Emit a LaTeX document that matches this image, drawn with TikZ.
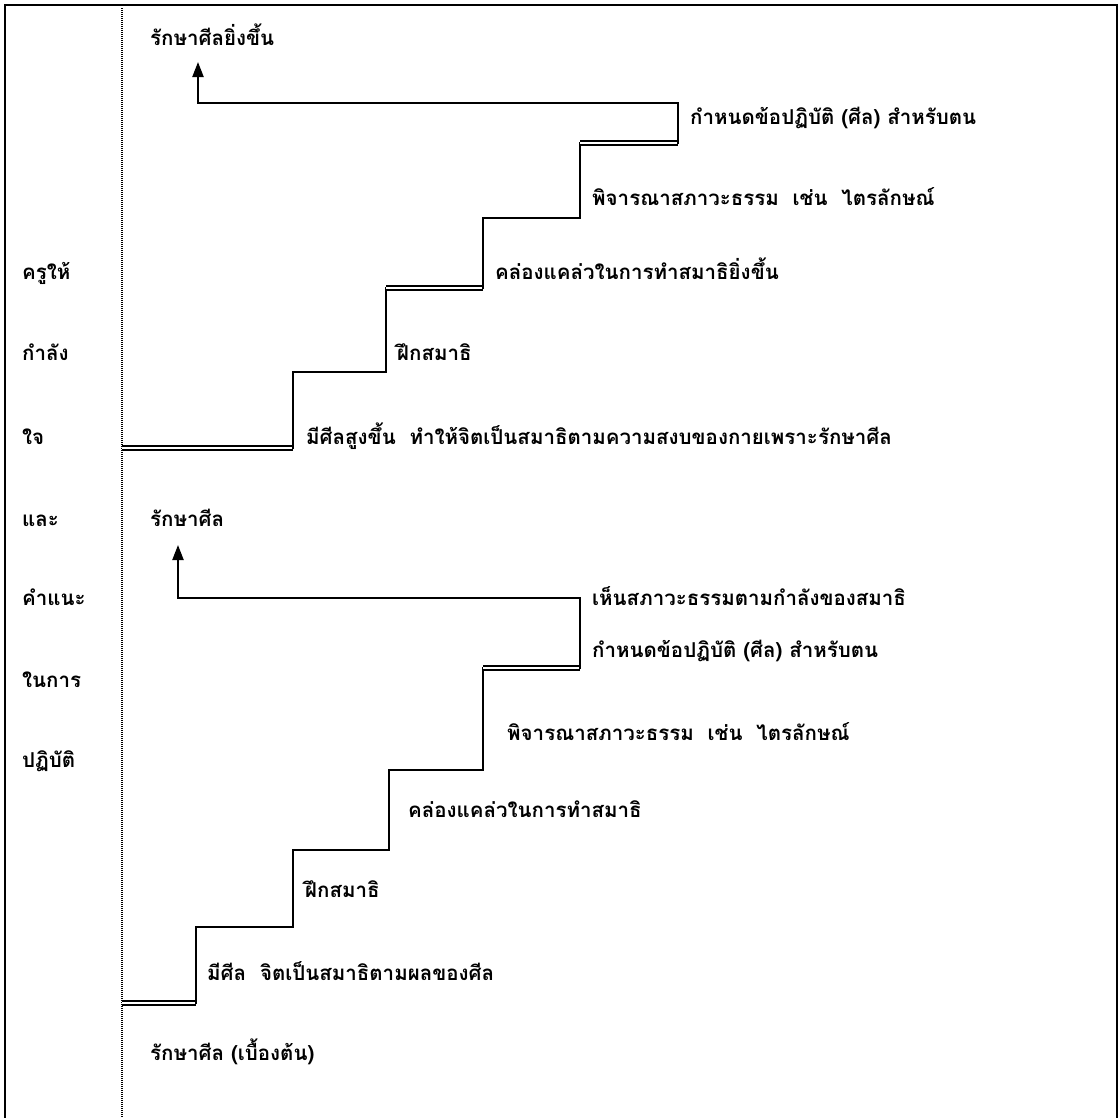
\documentclass[tikz,border=0pt]{standalone}
\usepackage{fontspec}
\newfontfamily\thai[Script=Thai]{Loma}
\usetikzlibrary{arrows.meta}
\begin{document}
\begin{tikzpicture}[x=1pt,y=-1pt,
  lbl/.style={anchor=base west,inner sep=0pt,font=\thai\bfseries\fontsize{20.5}{24}\selectfont},
  stair/.style={line width=2.2pt,line cap=rect},
  dbl/.style={line width=2pt,double,double distance=1.3pt},
  tip/.style={-{Triangle[width=11pt,length=15pt]}},
  frame/.style={line width=2pt},
  sep/.style={line width=1.5pt,dash pattern=on 1.2pt off 0.8pt}]
\useasboundingbox (0,0) rectangle (1119,1117);
\clip (0,0) rectangle (1119,1117);
% frame
\draw[frame] (5,1125) -- (5,5) -- (1117,5) -- (1117,1125);
\draw[sep] (122,8) -- (122,1117);
% left column
\node[lbl] (c1) at (22,279) {ครูให้};
\node[lbl] (c2) at (22,360) {กำลัง};
\node[lbl] (c3) at (22,444) {ใจ};
\node[lbl] (c4) at (22,526) {และ};
\node[lbl] (c5) at (22,605) {คำแนะ};
\node[lbl] (c6) at (22,687) {ในการ};
\node[lbl] (c7) at (22,767) {ปฏิบัติ};
% upper staircase
\coordinate (u0) at (122,448);
\coordinate (u1) at (293,448);
\coordinate (u2) at (293,372);
\coordinate (u3) at (386,372);
\coordinate (u4) at (386,288);
\coordinate (u5) at (483,288);
\coordinate (u6) at (483,218);
\coordinate (u7) at (580,218);
\coordinate (u8) at (580,143);
\coordinate (u9) at (678,143);
\coordinate (u10) at (678,103);
\coordinate (u11) at (198,103);
\coordinate (u12) at (198,62);
\draw[dbl] (u0) -- (u1);
\draw[stair] (u1) -- (u2) -- (u3) -- (u4);
\draw[dbl] (u4) -- (u5);
\draw[stair] (u5) -- (u6) -- (u7) -- (u8);
\draw[dbl] (u8) -- (u9);
\draw[stair,tip] (u9) -- (u10) -- (u11) -- (u12);
\node[lbl] (ut) at (150,45) {รักษาศีลยิ่งขึ้น};
\node[lbl] (ua) at (690,124) {กำหนดข้อปฏิบัติ (ศีล) สำหรับตน};
\node[lbl] (ub) at (592,205) {พิจารณาสภาวะธรรม\ \ เช่น\ \ ไตรลักษณ์};
\node[lbl] (uc) at (495,279) {คล่องแคล่วในการทำสมาธิยิ่งขึ้น};
\node[lbl] (ud) at (397,360) {ฝึกสมาธิ};
\node[lbl] (ue) at (306,444) {มีศีลสูงขึ้น\ \ ทำให้จิตเป็นสมาธิตามความสงบของกายเพราะรักษาศีล};
% lower staircase
\coordinate (l0) at (122,1003);
\coordinate (l1) at (196,1003);
\coordinate (l2) at (196,927);
\coordinate (l3) at (293,927);
\coordinate (l4) at (293,850);
\coordinate (l5) at (389,850);
\coordinate (l6) at (389,770);
\coordinate (l7) at (483,770);
\coordinate (l8) at (483,668);
\coordinate (l9) at (580,668);
\coordinate (l10) at (580,598);
\coordinate (l11) at (178,598);
\coordinate (l12) at (178,545);
\draw[dbl] (l0) -- (l1);
\draw[stair] (l1) -- (l2) -- (l3) -- (l4) -- (l5) -- (l6) -- (l7) -- (l8);
\draw[dbl] (l8) -- (l9);
\draw[stair,tip] (l9) -- (l10) -- (l11) -- (l12);
\node[lbl] (lt) at (150,526) {รักษาศีล};
\node[lbl] (la) at (592,605) {เห็นสภาวะธรรมตามกำลังของสมาธิ};
\node[lbl] (lb) at (592,657) {กำหนดข้อปฏิบัติ (ศีล) สำหรับตน};
\node[lbl] (lc) at (507,740) {พิจารณาสภาวะธรรม\ \ เช่น\ \ ไตรลักษณ์};
\node[lbl] (ld) at (408,817) {คล่องแคล่วในการทำสมาธิ};
\node[lbl] (le) at (305,897) {ฝึกสมาธิ};
\node[lbl] (lf) at (207,980) {มีศีล\ \ จิตเป็นสมาธิตามผลของศีล};
\node[lbl] (lg) at (150,1060) {รักษาศีล (เบื้องต้น)};
\end{tikzpicture}
\end{document}
